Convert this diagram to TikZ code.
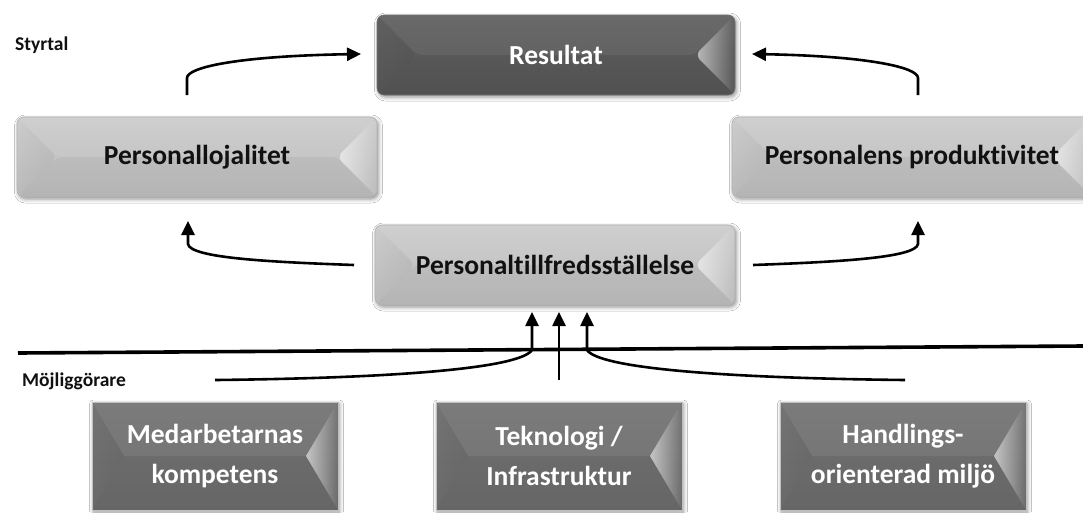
\documentclass[tikz,border=0pt]{standalone}
\usepackage{fontspec}
\setmainfont{Carlito}[RawFeature={-liga}]
\usetikzlibrary{arrows.meta,calc,shadows,shadows.blur,fadings}
\definecolor{lgtop}{HTML}{CDCDCD}
\definecolor{lgbot}{HTML}{BABABA}
\definecolor{dgtop}{HTML}{616161}
\definecolor{dgbot}{HTML}{545454}
\definecolor{mgtop}{HTML}{747474}
\definecolor{mgbot}{HTML}{6A6A6A}
\definecolor{txtdark}{HTML}{111111}
\tikzset{
  bevelbox/.style={path picture={
    \path (path picture bounding box.north west) coordinate (pnw)
          (path picture bounding box.south west) coordinate (psw)
          (path picture bounding box.north east) coordinate (pne)
          (path picture bounding box.south east) coordinate (pse);
    \fill[white,opacity=.05] (pnw) -- ($(pnw)!.5!(psw)+(#1,0)$) -- ($(pne)!.5!(pse)+(-#1,0)$) -- (pne) -- cycle;
    \fill[black,opacity=.03] (psw) -- ($(pnw)!.5!(psw)+(#1,0)$) -- ($(pne)!.5!(pse)+(-#1,0)$) -- (pse) -- cycle;
    \fill[black, opacity=.05, path fading=west] (pnw) -- ($(pnw)!.5!(psw)+(#1,0)$) -- (psw) -- cycle;
    \fill[white, opacity=.6, path fading=east] (pne) -- ($(pne)!.5!(pse)+(-#1,0)$) -- (pse) -- cycle;
  }},
  topbox/.style={rounded corners=7pt, draw=black!30, line width=0.6pt,
    top color=lgtop, bottom color=lgbot, minimum width=360, minimum height=80,
    font=\fontsize{27.5}{32}\selectfont\bfseries, text=txtdark,
    blur shadow={shadow xshift=1.5pt, shadow yshift=-2pt, shadow blur radius=4pt, shadow opacity=45},
    bevelbox=40},
  darkbox/.style={topbox, top color=dgtop, bottom color=dgbot, draw=black!55, text=white},
  lowbox/.style={draw=black!25, line width=0.6pt, top color=mgtop, bottom color=mgbot,
    minimum width=246, minimum height=108, align=center,
    font=\fontsize{27.5}{40}\selectfont\bfseries, text=white,
    blur shadow={shadow xshift=1.5pt, shadow yshift=-2pt, shadow blur radius=4pt, shadow opacity=45},
    bevelbox=32},
  sidelabel/.style={anchor=base west, inner sep=0pt, font=\fontsize{19.5}{22}\selectfont\bfseries, text=txtdark},
  arr/.style={line width=2.6pt, -{Triangle[length=14pt,width=13pt]}},
}
\begin{document}
\begin{tikzpicture}[x=1pt,y=-1pt]
\useasboundingbox (0,0) rectangle (1083,512);
\fill[white] (0,0) rectangle (1083,512);

% labels
\node[sidelabel] (styrtal) at (15,50) {Styrtal};
\node[sidelabel] (mojl) at (22,386) {Möjliggörare};

% boxes
\node[darkbox, minimum width=358] (res) at (556,55) {Resultat};
\node[topbox] (loj) at (197,157) {Personallojalitet};
\node[topbox] (prod) at (912,157) {Personalens produktivitet};
\node[topbox] (sat) at (555,265) {Personaltillfredsställelse};
\node[lowbox] (b1) at (215,456) {Medarbetarnas\\kompetens};
\node[lowbox] (b2) at (559,456) {Teknologi /\\Infrastruktur};
\node[lowbox] (b3) at (903,456) {Handlings-\\orienterad miljö};

% coordinates of free ends
\coordinate (lu0) at (187,95);
\coordinate (lu1) at (361,54);
\coordinate (ru0) at (918,95);
\coordinate (ru1) at (752,54);
\coordinate (ll0) at (354,265);
\coordinate (ll1) at (188,221);
\coordinate (rl0) at (753,265);
\coordinate (rl1) at (918,221);
\coordinate (hl0) at (18,353);
\coordinate (hl1) at (1083,346);
\coordinate (bl0) at (215,380);
\coordinate (bl1) at (532,312);
\coordinate (bm0) at (559,380);
\coordinate (bm1) at (559,312);
\coordinate (br0) at (905,380);
\coordinate (br1) at (587,312);

% upper arrows
\draw[arr] (lu0) -- (187,78) .. controls (187,67) and (240,56) .. (lu1);
\draw[arr] (ru0) -- (918,78) .. controls (918,67) and (865,56) .. (ru1);
% lower arrows
\draw[arr] (ll0) .. controls (270,262) and (190,258) .. (188,244) -- (ll1);
\draw[arr] (rl0) .. controls (835,262) and (916,258) .. (918,244) -- (rl1);

% dividing line
\draw[line width=3.6pt] (hl0) -- (hl1);

% bottom arrows
\draw[arr] (bl0) .. controls (400,378) and (520,368) .. (532,350) -- (bl1);
\draw[arr] (bm0) -- (bm1);
\draw[arr] (br0) .. controls (720,378) and (599,368) .. (587,350) -- (br1);
\end{tikzpicture}
\end{document}
